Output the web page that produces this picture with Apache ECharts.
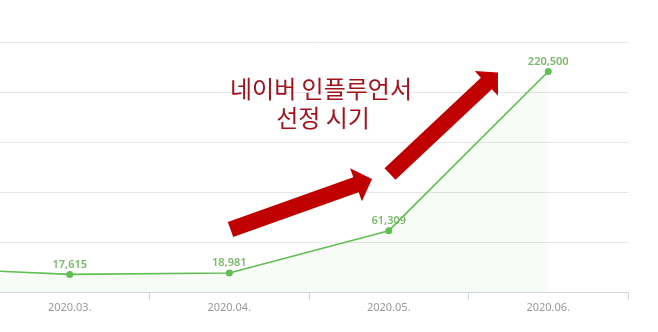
<!DOCTYPE html>
<html>
<head>
<meta charset="utf-8">
<script src="https://cdn.jsdelivr.net/npm/echarts@6/dist/echarts.min.js"></script>
<style>html,body{margin:0;padding:0;background:#fff;}#c{width:658px;height:332px;}</style>
</head>
<body>
<div id="c"></div>
<script>
const categories = ['2020.02.', '2020.03.', '2020.04.', '2020.05.', '2020.06.'];
const followers = [24800, 17615, 18981, 61309, 220500];
const yTicks = { min: 0, max: 250000, interval: 50000 };
const noteLines = ['네이버 인플루언서', '선정 시기'];

function arrowPoints(tail, tip, shaftW, headW, headL) {
  const dx = tip[0] - tail[0], dy = tip[1] - tail[1];
  const len = Math.hypot(dx, dy);
  const ux = dx / len, uy = dy / len;
  const px = -uy, py = ux;
  const bx = tip[0] - ux * headL, by = tip[1] - uy * headL;
  const s = shaftW / 2, h = headW / 2;
  return [
    [tail[0] + px * s, tail[1] + py * s],
    [bx + px * s, by + py * s],
    [bx + px * h, by + py * h],
    [tip[0], tip[1]],
    [bx - px * h, by - py * h],
    [bx - px * s, by - py * s],
    [tail[0] - px * s, tail[1] - py * s]
  ];
}

const chart = echarts.init(document.getElementById('c'));
chart.setOption({
  animation: false,
  grid: { left: -169.5, right: 30, top: 42, bottom: 40, outerBoundsMode: 'none', containLabel: false },
  xAxis: {
    type: 'category',
    data: categories,
    boundaryGap: true,
    axisLine: { lineStyle: { color: '#d3d6de', width: 1 } },
    axisTick: { show: true, length: 8, lineStyle: { color: '#d3d6de' } },
    axisLabel: { color: '#999', fontSize: 11, margin: 10, fontFamily: 'Noto Sans' }
  },
  yAxis: {
    type: 'value',
    min: yTicks.min, max: yTicks.max, interval: yTicks.interval,
    axisLabel: { show: false },
    axisLine: { show: false },
    axisTick: { show: false },
    splitLine: { lineStyle: { color: '#e6e6e6', width: 1 } }
  },
  series: [{
    type: 'line',
    data: followers,
    symbol: 'circle',
    symbolSize: 7,
    lineStyle: { color: '#62bd55', width: 1.6 },
    itemStyle: { color: '#62bd55' },
    areaStyle: { color: 'rgba(120,200,110,0.09)' },
    label: {
      show: true, position: 'top', distance: 1,
      color: '#7ab96a', fontSize: 11, fontWeight: 600, fontFamily: 'Noto Sans',
      formatter: p => p.value.toLocaleString('en-US')
    }
  }],
  graphic: [
    { type: 'polygon', shape: { points: arrowPoints([230.5, 229.5], [372, 179], 16, 35, 17) }, style: { fill: '#c00000' }, z: 100 },
    { type: 'polygon', shape: { points: arrowPoints([390, 174], [498, 72.5], 16, 34, 16) }, style: { fill: '#c00000' }, z: 100 },
    { type: 'text', x: 321, y: 89, style: { text: noteLines[0], fill: '#a3121c', font: '24px "Noto Sans CJK KR"', align: 'center', verticalAlign: 'middle' }, z: 100 },
    { type: 'text', x: 323, y: 118, style: { text: noteLines[1], fill: '#a3121c', font: '24px "Noto Sans CJK KR"', align: 'center', verticalAlign: 'middle' }, z: 100 }
  ]
});
</script>
</body>
</html>
